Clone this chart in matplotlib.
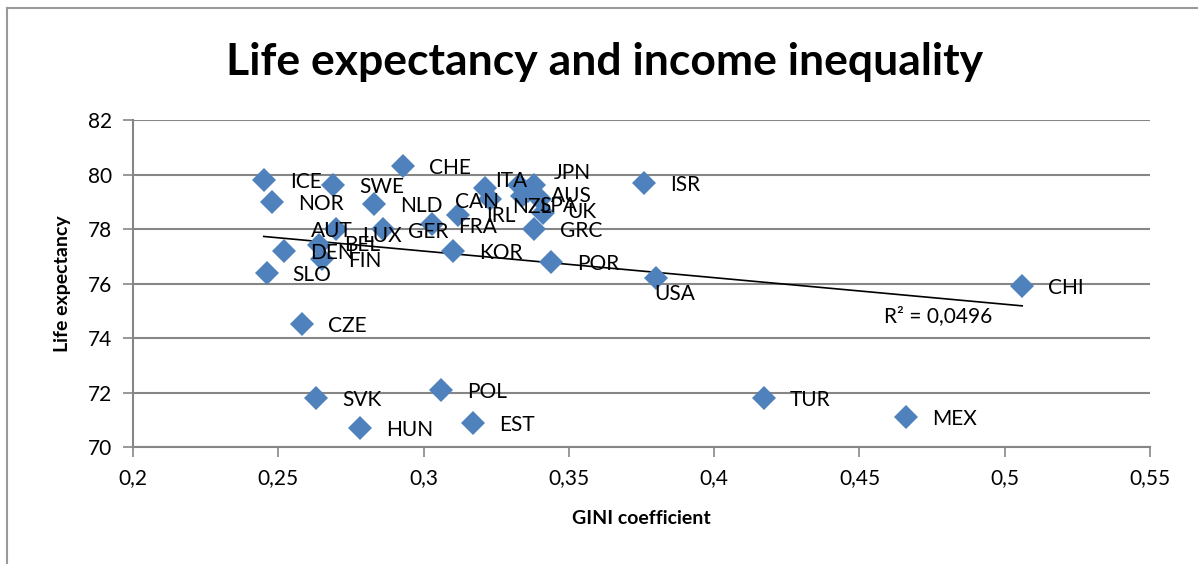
import numpy as np
import matplotlib.pyplot as plt
from matplotlib.ticker import FuncFormatter, MultipleLocator
from matplotlib.lines import Line2D

plt.rcParams['font.family'] = ['Lato', 'DejaVu Sans']

# data
countries = ['ICE', 'NOR', 'SWE', 'CHE', 'NLD', 'AUT', 'LUX', 'GER', 'DEN', 'BEL',
             'FIN', 'SLO', 'CZE', 'SVK', 'HUN', 'POL', 'EST', 'KOR', 'POR', 'GRC',
             'JPN', 'ISR', 'USA', 'CHI', 'TUR', 'MEX', 'CAN', 'ITA', 'IRL', 'NZL',
             'AUS', 'SPA', 'UK', 'FRA']
gini = [0.245, 0.248, 0.269, 0.293, 0.283, 0.270, 0.286, 0.303, 0.252, 0.264,
        0.265, 0.246, 0.258, 0.263, 0.278, 0.306, 0.317, 0.310, 0.344, 0.338,
        0.338, 0.376, 0.380, 0.506, 0.417, 0.466, 0.321, 0.333, 0.323, 0.334,
        0.336, 0.341, 0.340, 0.312]
life = [79.8, 79.0, 79.6, 80.3, 78.9, 78.0, 78.0, 78.2, 77.2, 77.4,
        76.9, 76.4, 74.5, 71.8, 70.7, 72.1, 70.9, 77.2, 76.8, 78.0,
        79.6, 79.7, 76.2, 75.9, 71.8, 71.1, 79.5, 79.6, 79.1, 79.2,
        79.4, 78.6, 79.1, 78.5]
r2_text = 'R² = 0,0496'

# label offsets in pixels (dx, dy) where the default right placement is not used
label_shift = {'AUT': (-25, -2), 'LUX': (-21, -7), 'GER': (-24, -8), 'JPN': (20, 12),
               'USA': (-2, -16), 'CAN': (-30, -14), 'ITA': (-24, 4), 'IRL': (-4, -17),
               'NZL': (-10, -11), 'AUS': (23, -5), 'SPA': (-3, 7), 'UK': (27, -13),
               'FRA': (0, -12), 'BEL': (25, 0)}

fig = plt.figure(figsize=(11.98, 5.64), dpi=100)
ax = fig.add_axes([0.111, 0.2074, 0.849, 0.5798])

grid_col = '#868686'
ax.plot(gini, life, 'D', color='#4F81BD', markersize=12, markeredgewidth=0, zorder=3)

for c, x, y in zip(countries, gini, life):
    dx, dy = label_shift.get(c, (26, -2))
    ax.annotate(c, (x, y), xytext=(dx, dy), textcoords='offset pixels',
                ha='left', va='center', fontsize=15, color='black', zorder=4)

# linear trend line
k, b = np.polyfit(gini, life, 1)
xs = np.array([min(gini), max(gini)])
ax.plot(xs, k * xs + b, color='black', linewidth=1.2, zorder=2)
ax.text(0.4585, 74.8, r2_text, fontsize=15, ha='left', va='center')

ax.set_xlim(0.2, 0.55)
ax.set_ylim(70, 82)
ax.xaxis.set_major_locator(MultipleLocator(0.05))
ax.yaxis.set_major_locator(MultipleLocator(2))
fmt = FuncFormatter(lambda v, p: ('%g' % round(v, 3)).replace('.', ','))
ax.xaxis.set_major_formatter(fmt)
ax.yaxis.set_major_formatter(fmt)
ax.grid(axis='y', color=grid_col, linewidth=1.5)
ax.set_axisbelow(True)
for s in ['top', 'right']:
    ax.spines[s].set_visible(False)
for s in ['left', 'bottom']:
    ax.spines[s].set_color(grid_col)
    ax.spines[s].set_linewidth(1.5)
ax.tick_params(axis='both', colors=grid_col, length=7, width=1.2, labelsize=15,
               labelcolor='black', pad=8)

ax.set_xlabel('GINI coefficient', fontsize=14, fontweight='bold', labelpad=16)
ax.set_ylabel('Life expectancy', fontsize=14, fontweight='bold', labelpad=12)
fig.suptitle('Life expectancy and income inequality', fontsize=32, fontweight='bold',
             x=0.505, y=0.925)

# chart border
fig.add_artist(Line2D([7 / 1198, 7 / 1198], [0, 1 - 8 / 564], color='#9a9a9a', linewidth=1.5))
fig.add_artist(Line2D([7 / 1198, 1], [1 - 8 / 564, 1 - 8 / 564], color='#9a9a9a', linewidth=1.5))

plt.savefig('out.png', dpi=100)
